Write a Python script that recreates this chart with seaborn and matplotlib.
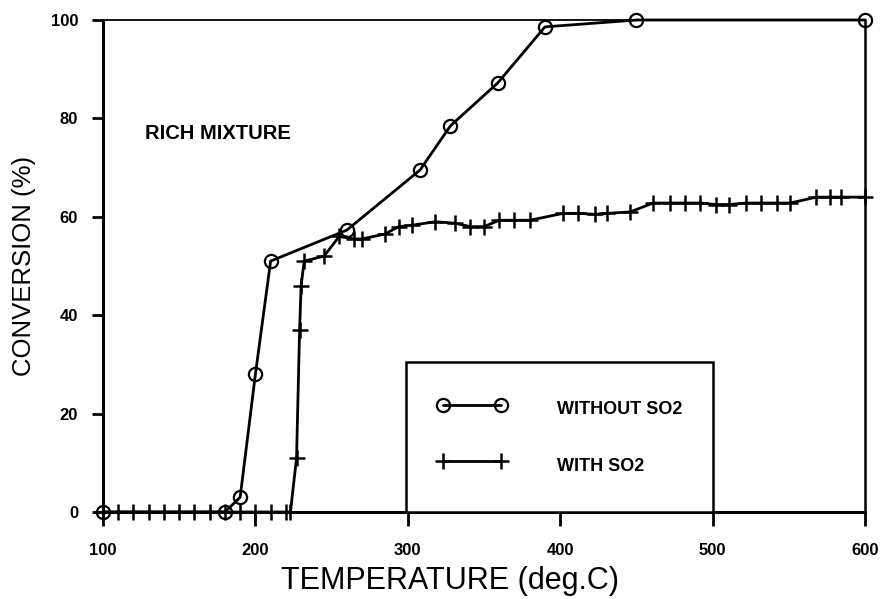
import matplotlib
matplotlib.use("Agg")
import matplotlib.pyplot as plt
import seaborn as sns
import pandas as pd

# Conversion vs temperature, rich mixture
temp_without = [100, 180, 190, 200, 210, 260, 308, 328, 359, 390, 450, 600]
conv_without = [0, 0, 3, 28, 51, 57.3, 69.5, 78.5, 87.2, 98.6, 100, 100]

temp_with = [100, 110, 120, 130, 140, 150, 160, 170, 180, 190, 200, 210, 220, 223,
             227, 229, 230, 232, 245, 255, 265, 270, 285, 294, 303, 318, 331, 341,
             350, 360, 370, 380, 402, 412, 423, 431, 446, 461, 472, 482, 492, 502,
             511, 522, 532, 542, 551, 568, 577, 584, 600]
conv_with = [0] * 14 + [11, 37, 46, 51, 52, 56, 55.5, 55.5, 56.5, 58,
                        58.3, 59, 58.7, 58, 58, 59.3, 59.3, 59.3, 60.7, 60.7,
                        60.5, 60.7, 61, 62.8, 62.8, 62.8, 62.8, 62.5, 62.5, 62.8,
                        62.8, 62.8, 62.8, 64, 64, 64, 64]

series_labels = ["WITHOUT SO2", "WITH SO2"]
x_ticks = [100, 200, 300, 400, 500, 600]
y_ticks = [0, 20, 40, 60, 80, 100]

sns.set_style("ticks")
plt.rcParams["font.family"] = ["Liberation Sans", "DejaVu Sans"]
plt.rcParams["text.color"] = "black"
plt.rcParams["axes.labelcolor"] = "black"
plt.rcParams["xtick.color"] = "black"
plt.rcParams["ytick.color"] = "black"

fig = plt.figure(figsize=(8.84, 5.99), dpi=100)
ax = fig.add_axes([103 / 884, 1 - 512 / 599, (865 - 103) / 884, (512 - 20) / 599])

df_without = pd.DataFrame({"temp": temp_without, "conv": conv_without})
df_with = pd.DataFrame({"temp": temp_with, "conv": conv_with})

sns.lineplot(data=df_without, x="temp", y="conv", ax=ax, color="black",
             estimator=None, lw=2.0, marker="o", markersize=9.5,
             markerfacecolor="none", markeredgecolor="black", markeredgewidth=1.6,
             label=series_labels[0], clip_on=False, zorder=4)
sns.lineplot(data=df_with, x="temp", y="conv", ax=ax, color="black",
             estimator=None, lw=2.0, marker="+", markersize=12,
             markeredgecolor="black", markeredgewidth=1.8,
             label=series_labels[1], clip_on=False, zorder=3)

ax.set_xlim(100, 600)
ax.set_ylim(0, 100)
ax.set_xticks(x_ticks)
ax.set_yticks(y_ticks)
ax.set_xticklabels([str(v) for v in x_ticks], fontsize=12, fontweight="bold")
ax.set_yticklabels([str(v) for v in y_ticks], fontsize=12, fontweight="bold")
ax.tick_params(axis="x", direction="out", length=10, width=2, pad=12)
ax.tick_params(axis="y", direction="out", length=8, width=2, pad=10)

for side in ["left", "bottom"]:
    ax.spines[side].set_linewidth(2.2)
ax.spines["top"].set_linewidth(1.3)
ax.spines["right"].set_linewidth(1.8)
for s in ax.spines.values():
    s.set_color("black")

ax.set_xlabel("TEMPERATURE (deg.C)", fontsize=22)
ax.set_ylabel("CONVERSION (%)", fontsize=18.5)
ax.xaxis.set_label_coords(0.455, -0.11)
ax.yaxis.set_label_coords(-0.088, 0.5)

ax.text(127.5, 77, "RICH MIXTURE", fontsize=14.5, fontweight="bold",
        ha="left", va="center")

leg = ax.legend(loc="lower left", bbox_to_anchor=(0.397, 0.0, 0.403, 0.3),
                mode="expand", borderaxespad=0, numpoints=2,
                prop={"size": 13, "weight": "bold"},
                borderpad=1.8, handlelength=3.8, handletextpad=2.8,
                handleheight=2.0, labelspacing=1.6, fancybox=False,
                framealpha=1, edgecolor="black")
leg.get_frame().set_linewidth(1.8)
leg.set_zorder(5)

fig.savefig("out.png", dpi=100)
